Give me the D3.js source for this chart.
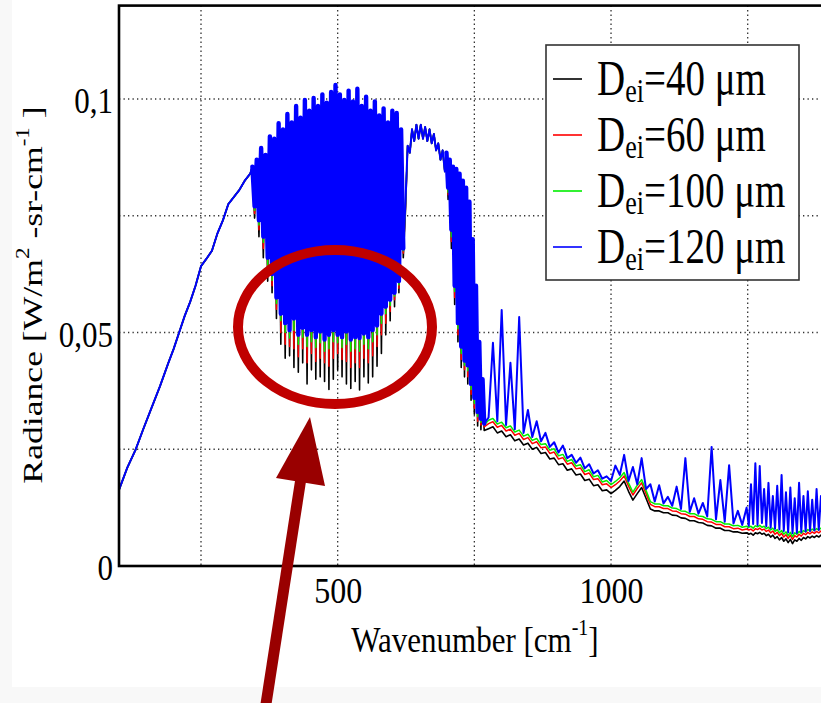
<!DOCTYPE html>
<html><head><meta charset="utf-8">
<script src="https://cdn.jsdelivr.net/npm/d3@7"></script>
<style>html,body{margin:0;padding:0;background:#f8f8f8;} svg{display:block;}</style>
</head><body>
<svg id="chart" width="821" height="703"></svg>
<script>
// ---- data ----
const wavenumber = [100,115,130,145,160,175,190,200,210,220,230,240,250,260,270,280,290,300,310,320,330,340,
344,348,352,356,360,364,368,372,376,380,384,388,392,396,400,404,408,412,416,420,424,428,432,436,440,444,448,452,456,460,464,468,472,476,480,484,488,492,496,500,504,508,512,516,520,524,528,532,536,540,544,548,552,556,560,564,568,572,576,580,584,588,592,596,600,604,608,612,616,620,
624,628,632,636,640,644,648,652,656,660,664,668,672,676,680,684,688,692,696,
699,702,705,708,711,714,717,720,723,726,729,732,735,738,741,744,747,750,753,756,759,762,765,768,
776,784,792,800,808,816,824,832,840,848,856,864,872,880,888,896,904,912,920,928,936,944,952,960,968,976,984,992,1000,1008,1016,1024,1032,1040,1048,1056,1064,1072,1080,1088,1096,1104,1112,1120,1128,1136,1144,1152,1160,1168,1176,1184,1192,1200,1208,1216,1224,1232,1240,1248,
1252,1256,1260,1264,1268,1272,1276,1280,1284,1288,1292,1296,1300,1304,1308,1312,1316,1320,1324,1328,1332,1336,1340,1344,1348,1352,1356,1360,1364,1368,1372,1376,1380,1384,1388,1392,1396,1400];

const radiance40 = [.0163,.021,.0248,.0295,.034,.0385,.0434,.0465,.050,.0535,.0565,.060,.0642,.0658,.0675,.0712,.074,.0775,.079,.0805,.0825,.084,
.0855,.0745,.087,.0705,.0895,.066,.088,.061,.092,.0585,.0915,.053,.0948,.0475,.0935,.0445,.0968,.045,.095,.0425,.0985,.0415,.096,.0435,.0998,.039,.0975,.042,.1002,.040,.0985,.0405,.101,.0395,.0992,.0378,.1015,.040,.103,.042,.101,.0405,.0998,.039,.1018,.038,.0995,.0395,.1022,.0377,.0985,.0405,.1005,.0392,.0975,.0405,.0995,.0428,.0965,.0455,.098,.0495,.095,.0525,.0975,.0555,.097,.0585,.0935,.066,
.076,.090,.0885,.0935,.091,.0945,.0915,.0945,.0915,.094,.091,.0935,.0905,.0925,.089,.0905,.087,.089,.0845,
.0885,.0785,.087,.068,.0855,.056,.085,.048,.084,.0425,.0825,.0405,.081,.039,.078,.0355,.070,.0325,.060,.030,.048,.0292,.040,.029,
.0294,.0298,.0285,.0289,.0277,.0281,.0268,.0272,.0259,.0263,.0250,.0254,.0241,.0243,.0229,.0231,.0217,.0219,.0205,.0208,
.0195,.0197,.0183,.0186,.0172,.0174,.0161,.0163,.0155,.0162,.0170,.0182,.0160,.0141,.0155,.0168,.0145,.0122,.0118,.0118,
.0114,.0114,.0109,.0108,.0103,.0102,.0097,.0097,.0093,.0092,.0087,.0086,.0081,.0081,.0076,.0076,.0073,.0073,.0070,.0071,
.0068,.0070,.0066,.0071,.0069,.0072,.0068,.0070,.0065,.0068,.0062,.0066,.0059,.0063,.0056,.0061,.0053,.0058,.0050,.0057,.0048,.0056,.0053,.0059,.0055,.0061,.0058,.0063,.0060,.0064,.0061,.0065,.0062,.0066,.0063,.0067,.0064,.0067];

const radiance60 = [.0163,.021,.0248,.0295,.034,.0385,.0434,.0465,.050,.0535,.0565,.060,.0642,.0658,.0675,.0712,.074,.0775,.079,.0805,.0825,.084,
.0855,.0755,.087,.072,.0895,.068,.088,.063,.092,.060,.0915,.055,.0948,.050,.0935,.0475,.0968,.047,.095,.0465,.0985,.0448,.096,.0465,.0998,.0435,.0975,.0455,.1002,.0438,.0985,.0445,.101,.0435,.0992,.0428,.1015,.0445,.103,.0455,.101,.0442,.0998,.0438,.1018,.0425,.0995,.0435,.1022,.0425,.0985,.0445,.1005,.0435,.0975,.045,.0995,.047,.0965,.0495,.098,.052,.095,.0545,.0975,.057,.097,.0595,.0935,.067,
.077,.090,.0885,.0935,.091,.0945,.0915,.0945,.0915,.094,.091,.0935,.0905,.0925,.089,.0905,.087,.089,.0845,
.0885,.0795,.087,.0695,.0855,.0575,.085,.0495,.084,.0442,.0825,.042,.081,.0405,.078,.0368,.070,.0338,.060,.031,.048,.0302,.040,.0298,
.0305,.0309,.0297,.0301,.0289,.0293,.0280,.0284,.0271,.0275,.0262,.0266,.0253,.0255,.0241,.0244,.0229,.0232,.0218,.0221,
.0208,.0210,.0196,.0199,.0185,.0187,.0174,.0176,.0168,.0174,.0182,.0193,.0171,.0152,.0166,.0178,.0155,.0132,.0127,.0127,
.0123,.0123,.0118,.0117,.0112,.0111,.0106,.0106,.0101,.0100,.0095,.0094,.0089,.0089,.0084,.0084,.0080,.0081,.0077,.0079,
.0077,.0079,.0075,.0080,.0078,.0081,.0077,.0079,.0074,.0077,.0071,.0075,.0068,.0072,.0065,.0070,.0062,.0067,.0059,.0066,.0057,.0065,.0062,.0068,.0064,.0070,.0067,.0072,.0069,.0073,.0070,.0074,.0071,.0075,.0072,.0076,.0073,.0076];

const radiance100 = [.0163,.021,.0248,.0295,.034,.0385,.0434,.0465,.050,.0535,.0565,.060,.0642,.0658,.0675,.0712,.074,.0775,.079,.0805,.0825,.084,
.0855,.0762,.087,.073,.0895,.0693,.088,.0645,.092,.0612,.0915,.0562,.0948,.0525,.0935,.050,.0968,.0488,.095,.0505,.0985,.0475,.096,.049,.0998,.047,.0975,.048,.1002,.0468,.0985,.0478,.101,.046,.0992,.0465,.1015,.048,.103,.0478,.101,.0468,.0998,.0475,.1018,.046,.0995,.0465,.1022,.046,.0985,.0475,.1005,.0465,.0975,.048,.0995,.0495,.0965,.052,.098,.054,.095,.0558,.0975,.0578,.097,.0602,.0935,.0675,
.0775,.090,.0885,.0935,.091,.0945,.0915,.0945,.0915,.094,.091,.0935,.0905,.0925,.089,.0905,.087,.089,.0845,
.0885,.080,.087,.0705,.0855,.0588,.085,.0508,.084,.0455,.0825,.043,.081,.0418,.078,.0378,.070,.0348,.060,.032,.048,.0308,.040,.0302,
.0312,.0316,.0304,.0308,.0296,.0300,.0287,.0291,.0278,.0282,.0269,.0273,.0260,.0262,.0248,.0251,.0236,.0239,.0224,.0228,
.0214,.0217,.0202,.0206,.0191,.0194,.0180,.0183,.0174,.0181,.0189,.0200,.0178,.0158,.0173,.0185,.0162,.0138,.0133,.0133,
.0129,.0129,.0124,.0123,.0118,.0117,.0112,.0112,.0107,.0106,.0101,.0100,.0095,.0095,.0090,.0090,.0086,.0087,.0083,.0085,
.0083,.0085,.0081,.0086,.0084,.0087,.0083,.0085,.0080,.0083,.0077,.0081,.0074,.0078,.0071,.0076,.0068,.0073,.0065,.0072,.0063,.0071,.0068,.0074,.0070,.0076,.0073,.0078,.0075,.0079,.0076,.0080,.0077,.0081,.0078,.0082,.0079,.0082];

const radiance120 = [.0163,.021,.0248,.0295,.034,.0385,.0434,.0465,.050,.0535,.0565,.060,.0642,.0658,.0675,.0712,.074,.0775,.079,.0805,.0825,.084,
.0855,.077,.087,.074,.0895,.0705,.088,.066,.092,.0625,.0915,.0575,.0948,.054,.0935,.052,.0968,.0505,.095,.053,.0985,.0495,.096,.051,.0998,.0495,.0975,.0505,.1002,.049,.0985,.0502,.101,.0485,.0992,.0495,.1015,.0505,.103,.0495,.101,.049,.0998,.0502,.1018,.0485,.0995,.049,.1022,.0488,.0985,.0498,.1005,.049,.0975,.0505,.0995,.0515,.0965,.054,.098,.0555,.095,.057,.0975,.0585,.097,.061,.0935,.068,
.078,.090,.0885,.0935,.091,.0945,.0915,.0945,.0915,.094,.091,.0935,.0905,.0925,.089,.0905,.087,.089,.0845,
.0885,.081,.087,.072,.0855,.060,.085,.052,.084,.047,.0825,.044,.081,.043,.078,.039,.070,.036,.060,.033,.048,.0315,.040,.0305,
.0318,.0478,.031,.0548,.0302,.0435,.0293,.0533,.0285,.0334,.0276,.031,.0267,.0285,.0255,.0265,.0243,.0258,.0231,.0238,
.0221,.0232,.0209,.0218,.0198,.0205,.0187,.0192,.0182,.0215,.0195,.0238,.0182,.0212,.0175,.0231,.0165,.0175,.0138,.0173,
.0134,.0148,.0129,.017,.0122,.0231,.0116,.0145,.0112,.0135,.0106,.0255,.0100,.0184,.0095,.0216,.0091,.0118,.0088,.0125,
.0086,.0175,.0090,.022,.0088,.0214,.0092,.0165,.0085,.0178,.0082,.0150,.0080,.0172,.0078,.0195,.0075,.0158,.0072,.0168,.0070,.0145,.0071,.0178,.0073,.0150,.0074,.0160,.0075,.0142,.0076,.0165,.0077,.0150,.0078,.0160,.0078,.0140];

const seriesSizes = ["40", "60", "100", "120"];
const seriesColors = ["#000000", "#ff0000", "#00ee00", "#0000ff"];
const seriesWidths = [1.6, 1.5, 1.5, 2.0];
// wavenumber ranges where the dense line forest is rendered as a solid mass
const denseBands = [[344, 620], [699, 768]];
const xTickValues = [500, 1000];
const xGridValues = [250, 500, 750, 1000, 1250];
const yTickValues = [0, 0.05, 0.1];
const yTickLabels = ["0", "0,05", "0,1"];
const yGridValues = [0.025, 0.05, 0.075, 0.1];

// ---- drawing ----
const FONT = "'Liberation Serif','Times New Roman',serif";
const svg = d3.select("#chart");
svg.append("rect").attr("x", 12).attr("y", 0).attr("width", 809).attr("height", 687).attr("fill", "#ffffff");

const x = d3.scaleLinear().domain([100, 1400]).range([119, 829.7]);
const y = d3.scaleLinear().domain([0, 0.12]).range([566, 5.6]);
const [x0, x1] = x.range(), [yb, yt] = y.range();

svg.append("defs").append("clipPath").attr("id", "plotclip")
  .append("rect").attr("x", x0).attr("y", yt).attr("width", x1 - x0).attr("height", yb - yt);

// grid
const grid = svg.append("g").attr("stroke", "#333").attr("stroke-width", 1.3).attr("stroke-dasharray", "1.3 3.2");
grid.selectAll("line.v").data(xGridValues).join("line").attr("class", "v")
  .attr("x1", d => x(d)).attr("x2", d => x(d)).attr("y1", yt).attr("y2", yb);
grid.selectAll("line.h").data(yGridValues).join("line").attr("class", "h")
  .attr("x1", x0).attr("x2", x1).attr("y1", d => y(d)).attr("y2", d => y(d));

// series
const allSeries = [radiance40, radiance60, radiance100, radiance120];
const line = d3.line().x((d, i) => x(wavenumber[i])).y(d => y(d));
const plot = svg.append("g").attr("clip-path", "url(#plotclip)");
allSeries.forEach((vals, k) => {
  plot.append("path").attr("d", line(vals)).attr("fill", "none")
    .attr("stroke", seriesColors[k]).attr("stroke-width", seriesWidths[k])
    .attr("stroke-linejoin", "round").attr("stroke-linecap", "round");
});
// dense forest of blue lines (drawn thicker so the line mass reads as solid, as in the original)
const inDense = i => denseBands.some(([a, b]) => wavenumber[i] >= a && wavenumber[i] <= b);
plot.append("path").attr("d", d3.line().defined((d, i) => inDense(i))
    .x((d, i) => x(wavenumber[i])).y(d => y(d))(radiance120))
  .attr("fill", "none").attr("stroke", seriesColors[3]).attr("stroke-width", 4.4)
  .attr("stroke-linejoin", "round").attr("stroke-linecap", "round");

// frame
svg.append("rect").attr("x", x0).attr("y", yt).attr("width", x1 - x0).attr("height", yb - yt)
  .attr("fill", "none").attr("stroke", "#000").attr("stroke-width", 2.6);

// axes (labels only)
const gx = svg.append("g").attr("transform", `translate(0,${yb})`)
  .call(d3.axisBottom(x).tickValues(xTickValues).tickSize(0).tickFormat(d3.format("d")));
gx.select(".domain").remove();
gx.selectAll("text").attr("y", 0).attr("dy", null).attr("fill", "#000")
  .attr("font-family", FONT).attr("font-size", 32)
  .attr("transform", "translate(0,37) scale(1,1.15)");

const gy = svg.append("g").attr("transform", `translate(${x0},0)`)
  .call(d3.axisLeft(y).tickValues(yTickValues).tickSize(0).tickFormat((d, i) => yTickLabels[i]));
gy.select(".domain").remove();
gy.selectAll("text").attr("x", 0).attr("dy", null).attr("fill", "#000")
  .attr("font-family", FONT).attr("font-size", 31).attr("text-anchor", "end")
  .attr("transform", "translate(-6,13.5) scale(1,1.15)");

// axis titles
const xt = svg.append("text").attr("transform", "translate(475,652) scale(1,1.13)")
  .attr("text-anchor", "middle").attr("font-family", FONT).attr("font-size", 31).attr("fill", "#000");
xt.append("tspan").text("Wavenumber [cm");
xt.append("tspan").attr("font-size", 20).attr("dy", -15).text("-1");
xt.append("tspan").attr("dy", 15).text("]");

const yt2 = svg.append("text").attr("transform", "translate(42,295) rotate(-90) scale(1.15,0.9)")
  .attr("text-anchor", "middle").attr("font-family", FONT).attr("font-size", 31).attr("fill", "#000");
yt2.append("tspan").text("Radiance [W/m");
yt2.append("tspan").attr("font-size", 20).attr("dy", -15).text("2");
yt2.append("tspan").attr("dy", 15).text(" -sr-cm");
yt2.append("tspan").attr("font-size", 20).attr("dy", -15).text("-1");
yt2.append("tspan").attr("dy", 15).text(" ]");

// legend
const lg = svg.append("g");
lg.append("rect").attr("x", 546).attr("y", 45).attr("width", 253).attr("height", 235)
  .attr("fill", "#fff").attr("stroke", "#333").attr("stroke-width", 1.6);
seriesSizes.forEach((s, i) => {
  const by = 95 + 56 * i;
  lg.append("line").attr("x1", 553).attr("x2", 582).attr("y1", by - 16).attr("y2", by - 16)
    .attr("stroke", seriesColors[i]).attr("stroke-width", 1.6);
  const t = lg.append("text").attr("transform", `translate(597,${by}) scale(1,1.3)`)
    .attr("font-family", FONT).attr("font-size", 39).attr("fill", "#000");
  t.append("tspan").text("D");
  t.append("tspan").attr("font-size", 26).attr("dy", 5.5).text("ei");
  t.append("tspan").attr("dy", -5.5).text("=" + s + " \u03bcm");
});

// annotation: ellipse and arrow
svg.append("ellipse").attr("cx", 335).attr("cy", 327).attr("rx", 97).attr("ry", 77)
  .attr("fill", "none").attr("stroke", "#c00000").attr("stroke-width", 10);
svg.append("line").attr("x1", 266).attr("y1", 704).attr("x2", 301).attr("y2", 478)
  .attr("stroke", "#990000").attr("stroke-width", 11);
svg.append("polygon").attr("points", "310,417 276,478 325,486").attr("fill", "#990000");
</script>
</body></html>
